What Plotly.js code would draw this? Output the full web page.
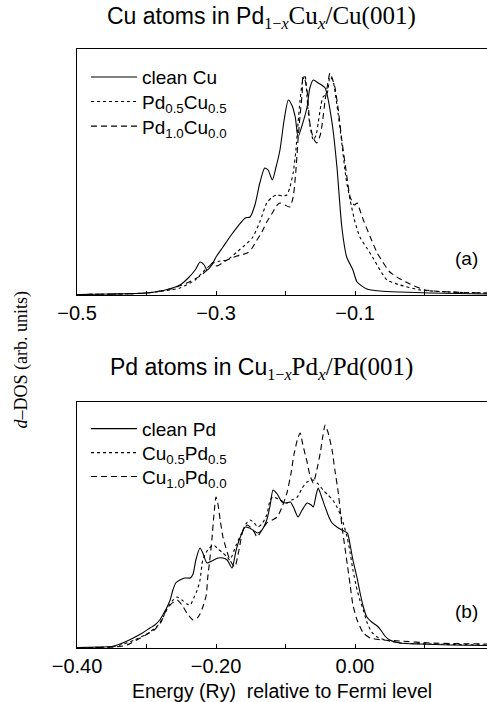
<!DOCTYPE html>
<html>
<head>
<meta charset="utf-8">
<script src="https://cdn.plot.ly/plotly-3.0.1.min.js"></script>
<style>html,body{margin:0;padding:0;background:#fff;}</style>
</head>
<body>
<div id="chart" style="width:487px;height:702px;"></div>
<script>
// ---------- Panel (a): Cu atoms in Pd(1-x)Cu(x)/Cu(001) ----------
const topCleanX = [-0.500,-0.453,-0.401,-0.373,-0.352,-0.340,-0.330,-0.323,-0.317,-0.313,-0.306,-0.300,-0.290,-0.276,-0.258,-0.251,-0.244,-0.237,-0.230,-0.225,-0.219,-0.214,-0.208,-0.202,-0.196,-0.191,-0.186,-0.182,-0.176,-0.169,-0.165,-0.160,-0.153,-0.143,-0.133,-0.126,-0.119,-0.112,-0.103,-0.097,-0.083,-0.064,-0.035,0.008,0.090];
const topCleanY = [0.5,1,2,5,10,17,25,33,30,25,30,38,48,62,77,78,90,112,127,125,115,127,145,175,195,190,178,158,170,188,207,215,212,207,172,128,68,38,25,13,6,4,3,2,1];

const topHalfX = [-0.500,-0.438,-0.401,-0.366,-0.352,-0.330,-0.316,-0.304,-0.294,-0.284,-0.270,-0.255,-0.247,-0.237,-0.227,-0.219,-0.212,-0.204,-0.198,-0.194,-0.189,-0.185,-0.182,-0.179,-0.176,-0.172,-0.168,-0.165,-0.160,-0.156,-0.153,-0.149,-0.146,-0.140,-0.136,-0.132,-0.126,-0.119,-0.113,-0.107,-0.100,-0.093,-0.083,-0.074,-0.064,-0.054,-0.035,-0.006,0.037,0.090];
const topHalfY = [0.5,1,2,5,7,15,25,32,34,35,43,52,58,73,92,98,100,99,100,107,122,145,172,195,212,220,188,170,155,160,172,190,198,202,218,215,190,152,117,95,73,58,47,37,25,15,10,5,3,2];

const topFullX = [-0.500,-0.438,-0.399,-0.366,-0.342,-0.323,-0.313,-0.309,-0.304,-0.299,-0.291,-0.284,-0.270,-0.255,-0.248,-0.241,-0.234,-0.227,-0.219,-0.212,-0.208,-0.201,-0.194,-0.189,-0.185,-0.182,-0.179,-0.176,-0.175,-0.172,-0.169,-0.165,-0.160,-0.155,-0.150,-0.147,-0.143,-0.140,-0.136,-0.133,-0.129,-0.124,-0.119,-0.113,-0.107,-0.101,-0.097,-0.093,-0.088,-0.078,-0.068,-0.060,-0.050,-0.035,-0.021,0.001,0.037,0.090];
const topFullY = [0.5,1,2,6,12,19,25,29,33,29,32,35,39,42,47,55,63,73,82,90,92,90,88,98,125,155,180,202,218,215,205,172,157,152,160,172,195,208,222,217,208,185,155,125,98,90,92,85,75,58,42,33,23,16,11,5,3,2];

// ---------- Panel (b): Pd atoms in Cu(1-x)Pd(x)/Pd(001) ----------
const botCleanX = [-0.400,-0.367,-0.350,-0.342,-0.331,-0.319,-0.306,-0.295,-0.288,-0.281,-0.275,-0.271,-0.266,-0.262,-0.258,-0.252,-0.245,-0.237,-0.233,-0.229,-0.223,-0.219,-0.213,-0.206,-0.197,-0.190,-0.184,-0.177,-0.171,-0.165,-0.158,-0.152,-0.147,-0.140,-0.134,-0.127,-0.122,-0.118,-0.112,-0.105,-0.099,-0.093,-0.088,-0.082,-0.076,-0.069,-0.063,-0.060,-0.056,-0.053,-0.049,-0.043,-0.037,-0.033,-0.026,-0.019,-0.011,-0.007,-0.003,0.003,0.007,0.012,0.017,0.024,0.032,0.037,0.043,0.050,0.065,0.093,0.137,0.190];
const botCleanY = [0.5,1,1.5,3,6,10,15,20,23,28,35,40,48,58,65,68,70,70,74,88,100,95,85,87,90,90,88,80,98,111,121,120,118,115,118,128,143,158,154,146,145,146,140,131,138,145,143,141,153,160,153,141,130,125,121,118,115,103,88,70,56,41,31,26,22,18,12,8,5,4,3,2.5];

const botHalfX = [-0.400,-0.353,-0.338,-0.317,-0.295,-0.283,-0.276,-0.271,-0.263,-0.256,-0.249,-0.242,-0.237,-0.232,-0.227,-0.223,-0.219,-0.212,-0.204,-0.197,-0.190,-0.184,-0.180,-0.171,-0.163,-0.157,-0.151,-0.145,-0.140,-0.134,-0.127,-0.122,-0.118,-0.108,-0.098,-0.091,-0.083,-0.076,-0.069,-0.060,-0.053,-0.046,-0.039,-0.032,-0.026,-0.022,-0.017,-0.011,-0.007,-0.003,0.003,0.007,0.012,0.017,0.024,0.032,0.043,0.065,0.108,0.190];
const botHalfY = [0.5,1,3,8,16,23,31,38,47,51,48,44,43,50,58,68,88,98,103,99,95,91,88,103,115,124,128,125,121,124,133,148,151,148,145,148,151,160,166,168,164,158,153,148,141,135,125,110,95,78,58,48,38,26,16,11,8,5,4,3];

const botFullX = [-0.400,-0.345,-0.328,-0.309,-0.289,-0.279,-0.273,-0.266,-0.256,-0.249,-0.242,-0.233,-0.227,-0.223,-0.219,-0.214,-0.212,-0.209,-0.206,-0.203,-0.200,-0.197,-0.194,-0.190,-0.184,-0.180,-0.173,-0.167,-0.161,-0.155,-0.151,-0.145,-0.141,-0.134,-0.127,-0.119,-0.112,-0.105,-0.098,-0.092,-0.088,-0.083,-0.079,-0.075,-0.069,-0.065,-0.060,-0.055,-0.050,-0.046,-0.043,-0.039,-0.033,-0.029,-0.024,-0.019,-0.014,-0.011,-0.007,-0.003,0.003,0.012,0.022,0.040,0.065,0.108,0.190];
const botFullY = [0.5,1,3,10,18,26,36,43,48,43,35,28,30,34,41,53,70,88,108,133,151,143,128,111,96,88,81,98,118,123,121,116,111,118,125,128,131,141,155,175,193,208,215,203,186,173,165,178,195,213,223,216,198,178,155,123,98,83,63,43,28,15,10,8,7,5,4];

const topTickVals = [-0.5,-0.3,-0.1];
const topTickText = ['\u22120.5','\u22120.3','\u22120.1'];
const botTickVals = [-0.4,-0.2,0.0];
const botTickText = ['\u22120.40','\u22120.20','0.00'];

const labels = {
  topClean: 'clean Cu',
  topHalf: 'Pd<sub>0.5</sub>Cu<sub>0.5</sub>',
  topFull: 'Pd<sub>1.0</sub>Cu<sub>0.0</sub>',
  botClean: 'clean Pd',
  botHalf: 'Cu<sub>0.5</sub>Pd<sub>0.5</sub>',
  botFull: 'Cu<sub>1.0</sub>Pd<sub>0.0</sub>'
};

const SERIF = "'Liberation Serif', 'Times New Roman', serif";
const SANS = "'Liberation Sans', Arial, sans-serif";
const SANS_SPAN = 'font-family:Liberation Sans';
const SERIF_SPAN = 'font-family:Liberation Serif;font-size:25px';

function tr(x, y, name, dash, xa, ya, leg) {
  return {
    x: x, y: y, name: name, type: 'scatter', mode: 'lines',
    xaxis: xa, yaxis: ya, legend: leg,
    line: {color: '#000', width: 1.1, dash: dash, shape: 'spline', smoothing: 0.6},
    hoverinfo: 'skip'
  };
}

const data = [
  tr(topCleanX, topCleanY, labels.topClean, 'solid', 'x', 'y', 'legend'),
  tr(topHalfX, topHalfY, labels.topHalf, 'dot', 'x', 'y', 'legend2'),
  tr(topFullX, topFullY, labels.topFull, '6px,4px', 'x', 'y', 'legend3'),
  tr(botCleanX, botCleanY, labels.botClean, 'solid', 'x2', 'y2', 'legend4'),
  tr(botHalfX, botHalfY, labels.botHalf, 'dot', 'x2', 'y2', 'legend5'),
  tr(botFullX, botFullY, labels.botFull, '6px,4px', 'x2', 'y2', 'legend6')
];

const axisCommon = {
  ticks: 'inside', ticklen: 4, tickwidth: 1, tickcolor: '#000',
  minor: {ticks: 'inside', ticklen: 4, tickwidth: 1, tickcolor: '#000', tick0: 0, dtick: 0.1, showgrid: false},
  showline: true, mirror: true, linecolor: '#000', linewidth: 1.2,
  showgrid: false, zeroline: false, tickfont: {size: 20, family: SANS, color: '#000'}
};
const yCommon = {
  showline: true, mirror: true, linecolor: '#000', linewidth: 1.2,
  showgrid: false, zeroline: false, showticklabels: false, ticks: ''
};

function leg(y) {
  return {
    x: 0.022, y: y, xanchor: 'left', yanchor: 'middle', bgcolor: 'rgba(0,0,0,0)', borderwidth: 0,
    itemwidth: 46, font: {size: 19, family: SANS, color: '#000'}, tracegroupgap: 0
  };
}

function title(a, b, c) {
  return '<span style="' + SANS_SPAN + '">' + a + ' atoms in ' + b + '</span><sub><span style="font-family:Liberation Serif">1\u2212<i>x</i></span></sub>' +
    '<span style="' + SERIF_SPAN + '">' + c + '<sub><i>x</i></sub>/' + c + '(001)</span>';
}

const layout = {
  width: 487, height: 702,
  margin: {l: 77, r: 0, t: 49, b: 54, pad: 0},
  paper_bgcolor: '#fff', plot_bgcolor: '#fff',
  font: {family: SANS, color: '#000', size: 19},
  showlegend: true,
  xaxis: Object.assign({}, axisCommon, {domain: [0, 1], anchor: 'y', range: [-0.5, 0.0899], tickmode: 'array', tickvals: topTickVals, ticktext: topTickText}),
  yaxis: Object.assign({}, yCommon, {domain: [0.5893, 1], anchor: 'x', range: [0, 246]}),
  xaxis2: Object.assign({}, axisCommon, {domain: [0, 1], anchor: 'y2', range: [-0.4, 0.1899], tickmode: 'array', tickvals: botTickVals, ticktext: botTickText,
    title: {text: 'Energy (Ry)\u00a0\u00a0relative to Fermi level', font: {size: 19.5, family: SANS, color: '#000'}, standoff: 8}}),
  yaxis2: Object.assign({}, yCommon, {domain: [0, 0.4107], anchor: 'x2', range: [0, 246]}),
  legend: leg(0.953),
  legend2: leg(0.912),
  legend3: leg(0.871),
  legend4: leg(0.366),
  legend5: leg(0.326),
  legend6: leg(0.286),
  annotations: [
    {xref: 'paper', yref: 'paper', x: 0.451, y: 1.052, xanchor: 'center', yanchor: 'middle', showarrow: false,
     text: title('Cu', 'Pd', 'Cu'), font: {size: 23, family: SANS, color: '#000'}},
    {xref: 'paper', yref: 'paper', x: 0.451, y: 0.466, xanchor: 'center', yanchor: 'middle', showarrow: false,
     text: title('Pd', 'Cu', 'Pd'), font: {size: 23, family: SANS, color: '#000'}},
    {xref: 'paper', yref: 'paper', x: -0.135, y: 0.481, xanchor: 'center', yanchor: 'middle', showarrow: false, textangle: -90,
     text: '<i>d</i>\u2013DOS (arb. units)', font: {size: 18, family: SERIF, color: '#000'}},
    {xref: 'x domain', yref: 'y domain', x: 0.983, y: 0.15, xanchor: 'right', yanchor: 'middle', showarrow: false,
     text: '(a)', font: {size: 19, family: SANS, color: '#000'}},
    {xref: 'x2 domain', yref: 'y2 domain', x: 0.983, y: 0.15, xanchor: 'right', yanchor: 'middle', showarrow: false,
     text: '(b)', font: {size: 19, family: SANS, color: '#000'}}
  ]
};

Plotly.newPlot('chart', data, layout, {staticPlot: true, displayModeBar: false});
</script>
</body>
</html>
